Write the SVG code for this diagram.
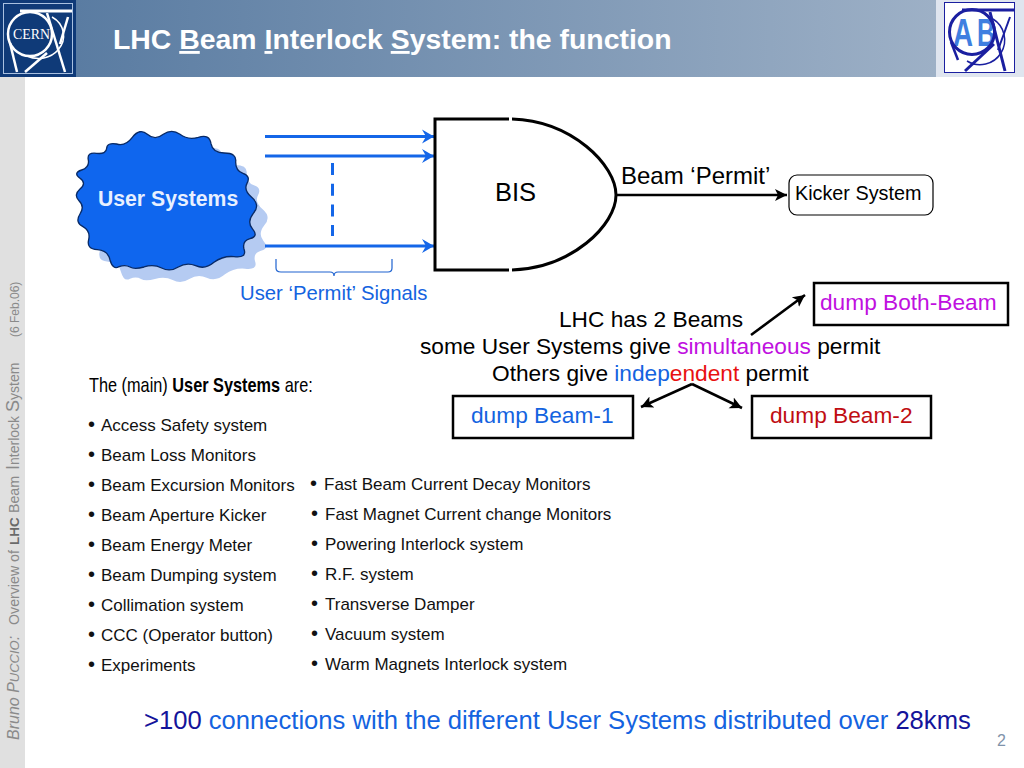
<svg xmlns="http://www.w3.org/2000/svg" xmlns:xlink="http://www.w3.org/1999/xlink" width="1024" height="768" viewBox="0 0 1024 768">
<style>
text{font-family:"Liberation Sans",Arial,sans-serif;fill:#000}
.li{font-size:17px;fill:#111}
.bu{font-size:20px}
.blue{fill:#1463e0}.red{fill:#c00d12}.mag{fill:#c010e0}.navy{fill:#14149a}.bred{fill:#e81010}
.box{fill:#fff;stroke:#000;stroke-width:2.5}
.sig{stroke:#1466e8;stroke-width:3;fill:none}
.side{fill:#8a8a8a;font-size:14.200px}
.t{font-size:22.700px}
</style>
<defs>
<linearGradient id="hdr" x1="0" x2="1" y1="0" y2="0"><stop offset="0" stop-color="#5a7ca2"/><stop offset="1" stop-color="#9db0c6"/></linearGradient>
<marker id="ah" markerUnits="userSpaceOnUse" markerWidth="18" markerHeight="16" refX="12" refY="7" orient="auto"><path d="M0 1L12 7L0 13L3 7Z" fill="#000"/></marker>
<marker id="ab" markerUnits="userSpaceOnUse" markerWidth="18" markerHeight="18" refX="13" refY="8" orient="auto"><path d="M1 1L13 8L1 15L5 8Z" fill="#1466e8"/></marker>
<path id="burst" d="M217 67Q240 38 262 58Q285 78 310 58Q335 40 360 58Q384 76 415 67Q449 56 453 86Q458 114 493 114Q531 114 527 141Q527 168 549 175Q573 183 561 205Q550 225 575 247Q602 270 580 295Q560 321 577 341Q597 364 570 371Q546 378 552 402Q562 430 522 425Q489 422 462 442Q435 465 407 452Q380 441 355 456Q330 472 305 459Q281 447 252 456Q223 464 210 456Q196 448 177 455Q159 466 150 435Q144 406 112 404Q79 402 86 374Q92 348 69 335Q44 322 60 297Q75 274 57 257Q40 240 60 222Q81 205 60 190Q38 174 65 165Q89 157 85 135Q80 111 110 115Q139 118 140 100Q141 82 170 87Q196 95 217 67Z"/>
</defs>
<rect width="1024" height="768" fill="#fff"/>
<g id="header">
<rect x="76" width="860" height="77" fill="url(#hdr)"/>
<rect y="77" width="25" height="691" fill="#e0e0e0"/>
<text x="113" y="49" font-size="28.400" font-weight="700" style="fill:#fff">LHC <tspan text-decoration="underline" style="fill:#fff">B</tspan>eam <tspan text-decoration="underline" style="fill:#fff">I</tspan>nterlock <tspan text-decoration="underline" style="fill:#fff">S</tspan>ystem: the function</text>
</g>
<g id="cern-logo">
<rect width="76" height="77" fill="#0f3a78"/>
<rect x="3.500" y="3.500" width="69" height="70" fill="none" stroke="#a9c0e0" stroke-width="1"/>
<g fill="none" stroke="#fff" stroke-width="2.500">
<circle cx="30" cy="34" r="22"/>
<path d="M20 11H72" stroke-width="3"/>
<path d="M68 17L60 44"/>
<path d="M25 72L47 53"/>
<path d="M47 13L65 72"/>
<path d="M10 43L17 72"/>
<path d="M52 17A24 22 0 0 1 58 50A24 20 0 0 1 27 56" stroke-width="1.500"/>
</g>
<text transform="translate(13 39) scale(.99 1)" font-size="14" style="font-family:'Liberation Serif',serif;fill:#fff">CERN</text>
</g>
<g id="ab-logo">
<rect x="936" width="88" height="77" fill="#dfe5ef"/>
<rect x="944.500" y="2.500" width="70" height="70" fill="#fff" stroke="#1a1fa0" stroke-width="1"/>
<text transform="translate(953 46) scale(.73 1)" font-size="38" font-weight="700" style="fill:#3f7fe0">A</text>
<text transform="translate(977 46) scale(.66 1)" font-size="38" font-weight="700" style="fill:#3f7fe0">B</text>
<g fill="none" stroke="#1a1fa0" stroke-width="3">
<circle cx="972" cy="32" r="22.500"/>
<path d="M962 10H1014"/>
<path d="M1010 17L998 50" stroke-width="2"/>
<path d="M965 71L994 44"/>
<path d="M990 12L1005 71"/>
<path d="M951 42L958 60" stroke-width="2.500"/>
<path d="M993 19A22 22 0 0 1 967 61" stroke-width="1.500"/>
</g>
</g>
<g id="sidebar">
<text class="side" transform="translate(19 740) rotate(-90)"><tspan x="0" font-size="16" font-style="italic">Bruno P<tspan font-size="13">UCCIO</tspan>:</tspan><tspan x="115">Overview of</tspan><tspan x="195" font-size="13.500" font-weight="700" style="fill:#6a6a6a">LHC</tspan><tspan x="227">Beam</tspan><tspan x="270" font-size="18">I</tspan><tspan font-size="14">nterlock</tspan><tspan x="328" font-size="18">S</tspan><tspan font-size="14">ystem</tspan><tspan x="403" font-size="12">(6 Feb.06)</tspan></text>
</g>
<g id="user-systems">
<use xlink:href="#burst" href="#burst" transform="translate(71 127) scale(.3333)" fill="#b5cbf2"/>
<use xlink:href="#burst" href="#burst" transform="translate(60 115) scale(.3333)" fill="#0f66ee" stroke="#082a66" stroke-width="4"/>
<text x="98" y="206" font-size="21.200" font-weight="700" style="fill:#e8f0ff">User Systems</text>
</g>
<g id="connectors">
<path class="sig" d="M265 136.500H434" marker-end="url(#ab)"/>
<path class="sig" d="M265 156H434" marker-end="url(#ab)"/>
<path class="sig" d="M265 246H434" marker-end="url(#ab)"/>
<path class="sig" d="M332.500 163V236" stroke-width="3.500" stroke-dasharray="12 8.700"/>
<path d="M276 259V268Q276 272 281 272H330Q334 272 334 276Q334 272 338 272H388Q392 272 392 268V259" fill="none" stroke="#1f63d0" stroke-width="1.200"/>
<g stroke="#000" fill="none">
<path d="M616 195H787" stroke-width="2.500" marker-end="url(#ah)"/>
<path d="M751 335L805 295" stroke-width="2.500" marker-end="url(#ah)"/>
<path d="M692 384L641 407" stroke-width="2.500" marker-end="url(#ah)"/>
<path d="M692 384L742 408" stroke-width="2.500" marker-end="url(#ah)"/>
</g>
</g>
<g id="bis">
<path d="M509 119H435V270H509" fill="none" stroke="#000" stroke-width="3"/>
<path d="M512 119C572 121 616 165 616 195C616 225 572 268 512 270" fill="none" stroke="#000" stroke-width="3"/>
<text x="495" y="201" font-size="25.500">BIS</text>
</g>
<text x="621" y="184" font-size="24">Beam ‘Permit’</text>
<text x="240" y="300" font-size="20.300" class="blue">User ‘Permit’ Signals</text>
<g id="kicker">
<rect x="789" y="175" width="144" height="40" rx="8" fill="#fff" stroke="#000" stroke-width="1.200"/>
<text x="795" y="200" font-size="19.800">Kicker System</text>
</g>
<g id="dump-both">
<rect class="box" x="814" y="283" width="194" height="42"/>
<text x="820" y="310" class="t mag">dump Both-Beam</text>
</g>
<g id="dump-1">
<rect class="box" x="453" y="396" width="180" height="42"/>
<text x="471" y="423" class="t blue">dump Beam-1</text>
</g>
<g id="dump-2">
<rect class="box" x="752" y="396" width="179" height="42"/>
<text x="770" y="423" class="t red">dump Beam-2</text>
</g>
<g id="beam-text">
<text class="t" x="559" y="327">LHC has 2 Beams</text>
<text class="t" x="420" y="354">some User Systems give <tspan class="mag">simultaneous</tspan> permit</text>
<text class="t" x="492" y="381">Others give <tspan class="blue">indep</tspan><tspan class="bred">endent</tspan> permit</text>
</g>
<text id="list-title" transform="translate(89 392) scale(.8155 1)" font-size="20">The (main) <tspan font-weight="700">User Systems</tspan> are:</text>
<g id="list-1">
<text class="li" x="88" y="431"><tspan class="bu">•</tspan><tspan x="101">Access Safety system</tspan></text>
<text class="li" x="88" y="461"><tspan class="bu">•</tspan><tspan x="101">Beam Loss Monitors</tspan></text>
<text class="li" x="88" y="490.500"><tspan class="bu">•</tspan><tspan x="101">Beam Excursion Monitors</tspan></text>
<text class="li" x="88" y="521"><tspan class="bu">•</tspan><tspan x="101">Beam Aperture Kicker</tspan></text>
<text class="li" x="88" y="550.500"><tspan class="bu">•</tspan><tspan x="101">Beam Energy Meter</tspan></text>
<text class="li" x="88" y="580.500"><tspan class="bu">•</tspan><tspan x="101">Beam Dumping system</tspan></text>
<text class="li" x="88" y="610.500"><tspan class="bu">•</tspan><tspan x="101">Collimation system</tspan></text>
<text class="li" x="88" y="640.500"><tspan class="bu">•</tspan><tspan x="101">CCC (Operator button)</tspan></text>
<text class="li" x="88" y="670.500"><tspan class="bu">•</tspan><tspan x="101">Experiments</tspan></text>
</g>
<g id="list-2">
<text class="li" x="310" y="490"><tspan class="bu">•</tspan><tspan x="324">Fast Beam Current Decay Monitors</tspan></text>
<text class="li" x="311" y="520"><tspan class="bu">•</tspan><tspan x="325">Fast Magnet Current change Monitors</tspan></text>
<text class="li" x="311" y="550"><tspan class="bu">•</tspan><tspan x="325">Powering Interlock system</tspan></text>
<text class="li" x="311" y="579.500"><tspan class="bu">•</tspan><tspan x="325">R.F. system</tspan></text>
<text class="li" x="311" y="609.500"><tspan class="bu">•</tspan><tspan x="325">Transverse Damper</tspan></text>
<text class="li" x="311" y="639.500"><tspan class="bu">•</tspan><tspan x="325">Vacuum system</tspan></text>
<text class="li" x="311" y="669.500"><tspan class="bu">•</tspan><tspan x="325">Warm Magnets Interlock system</tspan></text>
</g>
<text x="144" y="729" font-size="25.600" class="blue"><tspan class="navy">&gt;100 </tspan>connections with the different User Systems distributed over <tspan class="navy">28kms</tspan></text>
<text x="997" y="746" font-size="16" style="fill:#7f93aa">2</text>
</svg>
